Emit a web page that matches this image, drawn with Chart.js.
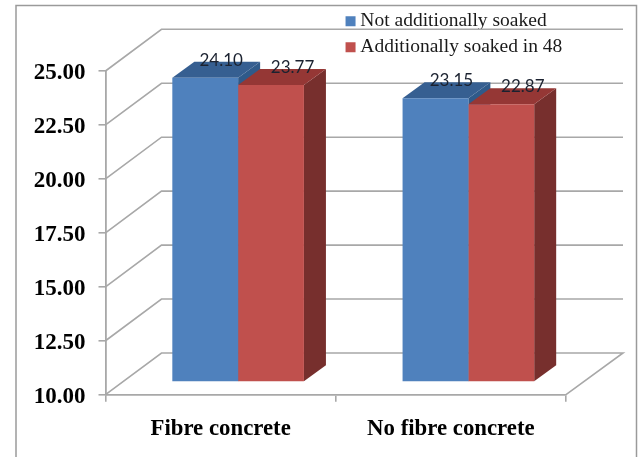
<!DOCTYPE html>
<html>
<head>
<meta charset="utf-8">
<style>
html,body{margin:0;padding:0;background:#fff;}
canvas{display:block;filter:blur(0.35px);}
</style>
<script src="https://cdn.jsdelivr.net/npm/chart.js@4/dist/chart.umd.js"></script>
</head>
<body>
<canvas id="c" width="642" height="457"></canvas>
<script>
const categories = ["Fibre concrete", "No fibre concrete"];
const notSoaked = [24.10, 23.15];
const soaked48 = [23.77, 22.87];
const seriesNames = ["Not additionally soaked", "Additionally soaked in 48"];
const axisFloor = 10;
const axisCeil = 25;
const axisStep = 2.5;

const GRID = '#a8a8a8';
const WALL = {dx: 56, dy: -41.7};
const BAR = {shiftX: 17.5, shiftY: -12.6, dx: 22, dy: -16};
const labelNudge = [16, 21.5];
const shades = [
  {top: '#365f91', side: '#2f5a8a'},
  {top: '#953735', side: '#772f2d'}
];

const scene = {
  id: 'scene',
  afterLayout(chart) {
    const l = chart.legend;
    l.left = 344; l.right = 600; l.top = 5;
  },
  beforeDraw(chart) {
    const c = chart.ctx;
    c.save();
    c.strokeStyle = '#9a9a9a';
    c.lineWidth = 1.5;
    c.beginPath();
    c.moveTo(16, 457); c.lineTo(16, 5.5); c.lineTo(636.5, 5.5); c.lineTo(636.5, 457);
    c.stroke();
    c.restore();
  },
  beforeDatasetsDraw(chart) {
    const c = chart.ctx, y = chart.scales.y, a = chart.chartArea;
    c.save();
    c.strokeStyle = GRID;
    c.lineWidth = 1.6;
    y.ticks.forEach((t, i) => {
      const py = y.getPixelForTick(i);
      c.beginPath();
      c.moveTo(a.left, py);
      c.lineTo(a.left + WALL.dx, py + WALL.dy);
      c.lineTo(a.right + WALL.dx + 1, py + WALL.dy);
      if (i === 0) c.lineTo(a.right, py);
      c.stroke();
    });
    c.translate(BAR.shiftX, BAR.shiftY);
    chart.data.datasets.forEach((d, i) => {
      const s = shades[i];
      chart.getDatasetMeta(i).data.forEach(b => {
        const p = b.getProps(['x', 'y', 'base', 'width'], true);
        const L = p.x - p.width / 2, R = p.x + p.width / 2;
        c.fillStyle = s.side;
        c.beginPath();
        c.moveTo(R, p.y); c.lineTo(R + BAR.dx, p.y + BAR.dy);
        c.lineTo(R + BAR.dx, p.base + BAR.dy); c.lineTo(R, p.base);
        c.closePath(); c.fill();
        c.fillStyle = s.top;
        c.beginPath();
        c.moveTo(L, p.y); c.lineTo(L + BAR.dx, p.y + BAR.dy);
        c.lineTo(R + BAR.dx, p.y + BAR.dy); c.lineTo(R, p.y);
        c.closePath(); c.fill();
      });
    });
    c.restore();
  },
  beforeDatasetDraw(chart) {
    chart.ctx.save();
    chart.ctx.translate(BAR.shiftX, BAR.shiftY);
  },
  afterDatasetDraw(chart) {
    chart.ctx.restore();
  },
  afterDatasetsDraw(chart) {
    const c = chart.ctx;
    c.save();
    c.font = '17px Lato';
    c.fillStyle = '#1b2230';
    c.textAlign = 'center';
    c.textBaseline = 'middle';
    chart.data.datasets.forEach((d, i) => {
      chart.getDatasetMeta(i).data.forEach((b, j) => {
        const p = b.getProps(['x', 'y'], true);
        c.fillText(d.data[j].toFixed(2), p.x + BAR.shiftX + labelNudge[i], p.y + BAR.shiftY + BAR.dy - 1.5);
      });
    });
    c.restore();
  }
};

new Chart(document.getElementById('c'), {
  type: 'bar',
  data: {
    labels: categories,
    datasets: [
      {label: seriesNames[0], data: notSoaked, backgroundColor: '#4f81bd', base: axisFloor, clip: false},
      {label: seriesNames[1], data: soaked48, backgroundColor: '#c0504d', base: axisFloor, clip: false}
    ]
  },
  plugins: [scene],
  options: {
    responsive: false,
    animation: false,
    devicePixelRatio: 1,
    layout: {padding: {left: 0, right: 76, top: 71, bottom: 0}},
    datasets: {bar: {barPercentage: 1, categoryPercentage: 0.5716, borderWidth: 0}},
    plugins: {
      title: {display: false},
      tooltip: {enabled: false},
      legend: {
        position: 'chartArea',
        align: 'start',
        labels: {
          font: {family: 'Liberation Serif', size: 19.5},
          color: '#1a1a1a',
          usePointStyle: true,
          pointStyle: 'rect',
          boxWidth: 0.1,
          boxHeight: 10,
          padding: 6.5,
          generateLabels(chart) {
            return chart.data.datasets.map((d, i) => ({
              text: d.label, fillStyle: d.backgroundColor, strokeStyle: d.backgroundColor,
              lineWidth: 0, pointStyle: 'rect', datasetIndex: i, fontColor: '#1a1a1a'
            }));
          }
        }
      }
    },
    scales: {
      x: {
        afterFit(s) { s.height = 62.3; },
        grid: {drawOnChartArea: false, offset: true, color: GRID, lineWidth: 1.6, tickLength: 7},
        border: {color: GRID, width: 1.8},
        ticks: {color: '#000', padding: 14, maxRotation: 0, font: {family: 'Liberation Serif', size: 22.8, weight: 'bold'}}
      },
      y: {
        min: axisFloor,
        max: axisCeil,
        afterFit(s) { s.width = 105.5; },
        grid: {drawOnChartArea: false, color: GRID, lineWidth: 1.6, tickLength: 7},
        border: {color: GRID, width: 1.8},
        ticks: {
          stepSize: axisStep,
          color: '#000',
          padding: 13,
          labelOffset: 2,
          font: {family: 'Liberation Serif', size: 23, weight: 'bold'},
          callback: v => v.toFixed(2)
        }
      }
    }
  }
});
</script>
</body>
</html>
